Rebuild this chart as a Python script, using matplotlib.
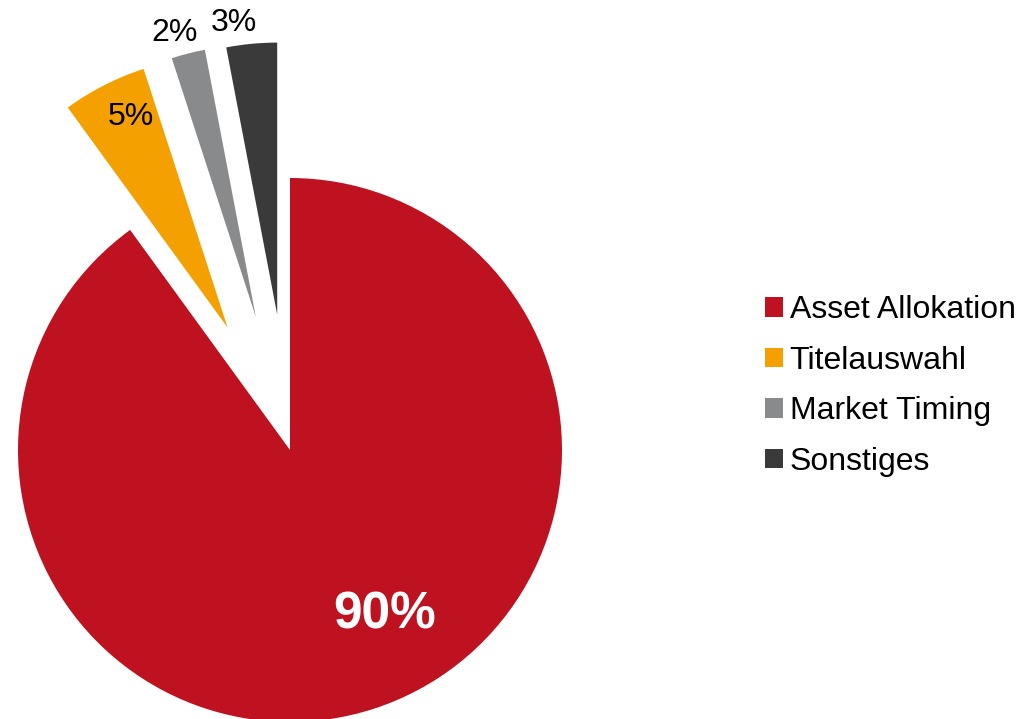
import matplotlib.pyplot as plt
from matplotlib.patches import Patch

plt.rcParams['font.family'] = ['Liberation Sans', 'DejaVu Sans']

# data
categories = ['Asset Allokation', 'Titelauswahl', 'Market Timing', 'Sonstiges']
shares = [90, 5, 2, 3]
colors = ['#BE1220', '#F4A000', '#898A8C', '#3A3A3A']
explode = [0, 0.505, 0.505, 0.5]

# label placement (radius units) and style
label_pos = [(0.349, -0.607), (-0.585, 1.224), (-0.426, 1.533), (-0.206, 1.570)]
label_colors = ['white', 'black', 'black', 'black']
label_sizes = [37, 23, 23, 23]
label_weights = ['bold', 'normal', 'normal', 'normal']

fig = plt.figure(figsize=(10.18, 7.19), dpi=100)
ax = fig.add_axes([0, 0, 0.7, 1])

wedges, _ = ax.pie(shares, colors=colors, explode=explode, startangle=90,
                   counterclock=False, radius=1,
                   wedgeprops=dict(linewidth=0))
ax.set_aspect('auto')
# 1 radius = 272 px, centre at (290, 450) px from top-left
ax.set_xlim(-290 / 272, (0.7 * 1018 - 290) / 272)
ax.set_ylim(-269 / 272, 450 / 272)
ax.axis('off')

for (x, y), v, c, s, w in zip(label_pos, shares, label_colors, label_sizes, label_weights):
    ax.text(x, y, f'{v}%', color=c, fontsize=s, fontweight=w,
            ha='center', va='center')

handles = [Patch(facecolor=c, edgecolor='none') for c in colors]
fig.legend(handles, categories, loc='center left',
           bbox_to_anchor=(765 / 1018, 1 - 386 / 719), frameon=False,
           fontsize=23, handlelength=0.55, handleheight=0.55,
           handletextpad=0.22, labelspacing=0.64, borderpad=0, borderaxespad=0)

fig.savefig('out.png', dpi=100)
